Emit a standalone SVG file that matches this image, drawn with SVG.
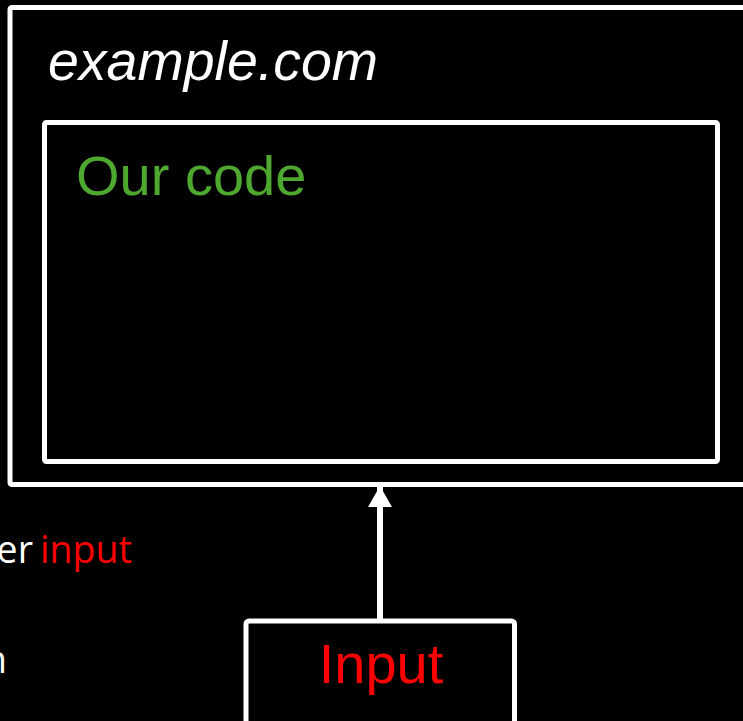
<svg xmlns="http://www.w3.org/2000/svg" width="743" height="721" viewBox="0 0 743 721">
  <style>
    .box { fill: none; stroke: #ffffff; stroke-width: 5; }
    .sans { font-family: "Liberation Sans", Arial, sans-serif; }
    .body { font-family: "Open Sans", "Noto Sans", sans-serif; font-size: 37.5px; }
  </style>
  <defs>
    <marker id="head" markerUnits="userSpaceOnUse" markerWidth="26" markerHeight="24" refX="21" refY="12" orient="auto">
      <polygon points="0,0 21,12 0,24" fill="#ffffff"/>
    </marker>
  </defs>
  <rect width="743" height="721" fill="#000000"/>

  <!-- side notes, partly cut off at the left edge -->
  <text class="body" x="33" y="563" text-anchor="end" fill="#ffffff">er</text>
  <text class="body" x="40" y="563" fill="#ff0000">input</text>
  <text class="body" x="7" y="673" text-anchor="end" fill="#ffffff">n</text>

  <g id="site">
    <rect class="box" x="10" y="7.5" width="800" height="477" rx="2"/>
    <text class="sans" x="48" y="80" font-size="55.5" font-style="italic" fill="#ffffff">example.com</text>
  </g>

  <g id="code">
    <rect class="box" x="44.5" y="122.5" width="673" height="339" rx="2"/>
    <text class="sans" x="76" y="195" font-size="56" fill="#4ea72e">Our code</text>
  </g>

  <g id="input">
    <rect class="box" x="246" y="621" width="268.5" height="130" rx="3" stroke-width="5.5"/>
    <text class="sans" x="381" y="683" font-size="56" text-anchor="middle" fill="#ff0000">Input</text>
  </g>

  <g id="connectors">
    <line x1="380" y1="619" x2="380" y2="486" stroke="#ffffff" stroke-width="6" marker-end="url(#head)"/>
  </g>
</svg>
